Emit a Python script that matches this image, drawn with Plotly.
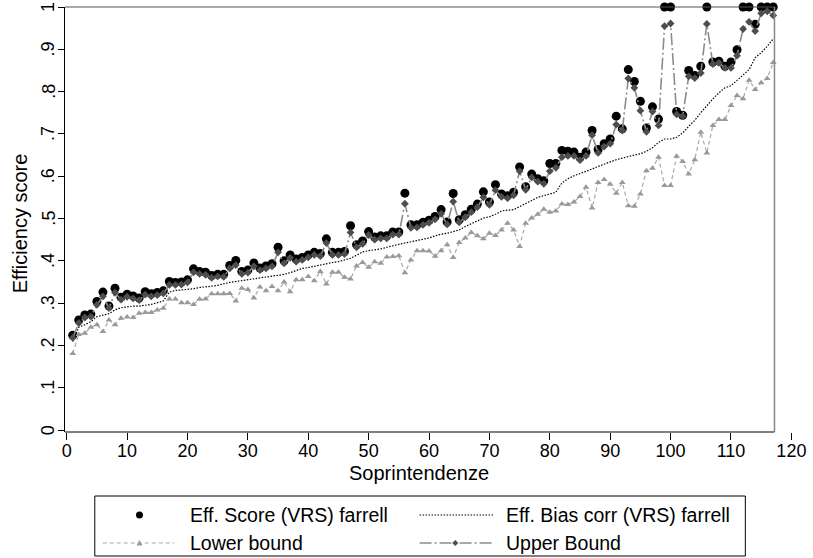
import plotly.graph_objects as go

units = list(range(1, 118))

score = [0.224, 0.260, 0.272, 0.274, 0.304, 0.326, 0.293, 0.335, 0.314, 0.321,
         0.317, 0.312, 0.327, 0.322, 0.325, 0.329, 0.351, 0.349, 0.350, 0.355,
         0.381, 0.375, 0.373, 0.365, 0.368, 0.368, 0.389, 0.401, 0.375, 0.378,
         0.395, 0.383, 0.388, 0.393, 0.432, 0.400, 0.414, 0.404, 0.408, 0.414,
         0.420, 0.417, 0.452, 0.420, 0.420, 0.422, 0.483, 0.438, 0.447, 0.469,
         0.456, 0.459, 0.459, 0.468, 0.468, 0.560, 0.485, 0.485, 0.491, 0.496,
         0.505, 0.521, 0.492, 0.559, 0.497, 0.509, 0.522, 0.534, 0.563, 0.539,
         0.580, 0.558, 0.554, 0.562, 0.622, 0.575, 0.605, 0.594, 0.589, 0.630,
         0.630, 0.661, 0.659, 0.657, 0.645, 0.657, 0.708, 0.663, 0.677, 0.688,
         0.742, 0.712, 0.852, 0.824, 0.777, 0.714, 0.764, 0.735, 1.000, 1.000,
         0.753, 0.744, 0.850, 0.838, 0.860, 1.000, 0.870, 0.872, 0.860, 0.870,
         0.899, 1.000, 1.000, 0.959, 1.000, 1.000, 1.000]

bias_corr = [0.209, 0.243, 0.249, 0.256, 0.268, 0.272, 0.275, 0.284, 0.289, 0.291,
             0.293, 0.293, 0.295, 0.297, 0.301, 0.305, 0.326, 0.330, 0.331, 0.332,
             0.334, 0.337, 0.338, 0.340, 0.342, 0.346, 0.349, 0.351, 0.353, 0.355,
             0.357, 0.360, 0.361, 0.363, 0.365, 0.368, 0.372, 0.377, 0.382, 0.384,
             0.387, 0.391, 0.394, 0.396, 0.398, 0.402, 0.406, 0.413, 0.421, 0.424,
             0.426, 0.428, 0.432, 0.436, 0.439, 0.442, 0.445, 0.447, 0.450, 0.454,
             0.459, 0.463, 0.465, 0.469, 0.473, 0.481, 0.488, 0.495, 0.501, 0.504,
             0.510, 0.518, 0.520, 0.521, 0.528, 0.536, 0.544, 0.550, 0.554, 0.558,
             0.562, 0.584, 0.594, 0.601, 0.606, 0.611, 0.617, 0.623, 0.629, 0.634,
             0.639, 0.643, 0.647, 0.650, 0.653, 0.659, 0.667, 0.680, 0.688, 0.688,
             0.692, 0.702, 0.718, 0.732, 0.750, 0.767, 0.783, 0.797, 0.809, 0.814,
             0.827, 0.840, 0.852, 0.880, 0.892, 0.907, 0.925]

lower = [0.181, 0.226, 0.229, 0.243, 0.249, 0.233, 0.260, 0.249, 0.264, 0.267,
         0.266, 0.276, 0.278, 0.278, 0.284, 0.288, 0.310, 0.310, 0.301, 0.301,
         0.297, 0.309, 0.310, 0.322, 0.322, 0.322, 0.323, 0.305, 0.335, 0.332,
         0.312, 0.338, 0.329, 0.339, 0.329, 0.350, 0.327, 0.355, 0.355, 0.363,
         0.353, 0.375, 0.345, 0.373, 0.373, 0.361, 0.357, 0.388, 0.396, 0.385,
         0.398, 0.394, 0.409, 0.410, 0.412, 0.372, 0.402, 0.424, 0.424, 0.423,
         0.411, 0.424, 0.438, 0.408, 0.443, 0.454, 0.467, 0.459, 0.452, 0.465,
         0.460, 0.473, 0.489, 0.473, 0.434, 0.489, 0.501, 0.510, 0.522, 0.515,
         0.518, 0.534, 0.533, 0.539, 0.552, 0.574, 0.525, 0.585, 0.592, 0.581,
         0.560, 0.585, 0.530, 0.529, 0.558, 0.613, 0.619, 0.645, 0.578, 0.578,
         0.647, 0.635, 0.605, 0.639, 0.704, 0.655, 0.720, 0.734, 0.734, 0.767,
         0.791, 0.783, 0.827, 0.805, 0.821, 0.831, 0.869]

upper = [0.218, 0.253, 0.266, 0.268, 0.296, 0.316, 0.288, 0.325, 0.308, 0.315,
         0.311, 0.307, 0.320, 0.316, 0.319, 0.323, 0.343, 0.343, 0.344, 0.349,
         0.373, 0.369, 0.367, 0.360, 0.363, 0.362, 0.382, 0.390, 0.369, 0.372,
         0.387, 0.378, 0.382, 0.387, 0.420, 0.394, 0.407, 0.398, 0.402, 0.408,
         0.414, 0.411, 0.442, 0.414, 0.414, 0.416, 0.467, 0.432, 0.440, 0.461,
         0.450, 0.453, 0.453, 0.462, 0.462, 0.535, 0.478, 0.479, 0.485, 0.490,
         0.498, 0.511, 0.486, 0.540, 0.491, 0.503, 0.515, 0.527, 0.550, 0.532,
         0.567, 0.551, 0.548, 0.555, 0.612, 0.568, 0.597, 0.587, 0.582, 0.612,
         0.620, 0.645, 0.648, 0.648, 0.638, 0.648, 0.697, 0.655, 0.670, 0.677,
         0.722, 0.708, 0.831, 0.809, 0.755, 0.705, 0.753, 0.720, 0.955, 0.961,
         0.746, 0.742, 0.836, 0.832, 0.844, 0.960, 0.865, 0.868, 0.856, 0.856,
         0.885, 0.948, 0.965, 0.943, 0.985, 0.990, 0.980]

x_ticks = [0, 10, 20, 30, 40, 50, 60, 70, 80, 90, 100, 110, 120]
y_ticks = [0, 0.1, 0.2, 0.3, 0.4, 0.5, 0.6, 0.7, 0.8, 0.9, 1.0]
y_ticklabels = ["0", ".1", ".2", ".3", ".4", ".5", ".6", ".7", ".8", ".9", "1"]

legend_labels = ["Eff. Score (VRS) farrell", "Eff. Bias corr (VRS) farrell",
                 "Lower bound", "Upper Bound"]

FONT = "Liberation Sans, Arial, Helvetica, sans-serif"
X_MIN, X_MAX, X_FRAME = -0.28, 120.6, 117.2

W, H = 813, 558
L, R, T, B = 65, 13, 7, 558 - 432
PW, PH = W - L - R, H - T - B


def px(p):
    """page pixel x -> paper x"""
    return (p - L) / PW


def py(p):
    """page pixel y -> paper y"""
    return (H - B - p) / PH


fig = go.Figure()

fig.add_trace(go.Scatter(x=units, y=score, mode="markers", cliponaxis=False,
                         marker=dict(symbol="circle", size=9, color="black"),
                         name=legend_labels[0], showlegend=False))
fig.add_trace(go.Scatter(x=units, y=bias_corr, mode="lines", cliponaxis=False,
                         line=dict(color="black", width=1.2, dash="1.5px,1.5px"),
                         name=legend_labels[1], showlegend=False))
fig.add_trace(go.Scatter(x=units, y=lower, mode="lines+markers", cliponaxis=False,
                         line=dict(color="#a8a8a8", width=1.2, dash="4px,3px"),
                         marker=dict(symbol="triangle-up", size=6, color="#999999"),
                         name=legend_labels[2], showlegend=False))
fig.add_trace(go.Scatter(x=units, y=upper, mode="lines+markers", cliponaxis=False,
                         line=dict(color="#8c8c8c", width=1.6, dash="12px,3px,2px,3px"),
                         marker=dict(symbol="diamond", size=6, color="#4d4d4d"),
                         name=legend_labels[3], showlegend=False))

shapes = []
# plot frame: bottom, top, right
shapes.append(dict(type="line", xref="x", yref="paper", x0=X_MIN, x1=X_FRAME, y0=0, y1=0,
                   line=dict(color="black", width=1)))
shapes.append(dict(type="line", xref="x", yref="paper", x0=X_MIN, x1=X_FRAME, y0=1, y1=1,
                   line=dict(color="#555555", width=1)))
shapes.append(dict(type="line", xref="x", yref="paper", x0=X_FRAME, x1=X_FRAME, y0=0, y1=1,
                   line=dict(color="#888888", width=1.5)))

# manual legend
shapes.append(dict(type="rect", xref="paper", yref="paper", x0=px(95), x1=px(750),
                   y0=py(556), y1=py(496), line=dict(color="black", width=1), fillcolor="white",
                   layer="below"))
row1, row2 = 515, 543
shapes.append(dict(type="circle", xref="paper", yref="paper", xsizemode="pixel", ysizemode="pixel",
                   xanchor=px(140), yanchor=py(row1), x0=-3.5, x1=3.5, y0=-3.5, y1=3.5,
                   fillcolor="black", line=dict(width=0)))
shapes.append(dict(type="line", xref="paper", yref="paper", x0=px(422), x1=px(496),
                   y0=py(row1), y1=py(row1), line=dict(color="black", width=1.2, dash="1.5px,1.5px")))
shapes.append(dict(type="line", xref="paper", yref="paper", x0=px(103), x1=px(175),
                   y0=py(row2), y1=py(row2), line=dict(color="#a8a8a8", width=1.2, dash="4px,3px")))
shapes.append(dict(type="path", xref="paper", yref="paper", xsizemode="pixel", ysizemode="pixel",
                   xanchor=px(140), yanchor=py(row2), path="M-3,-2.5 L3,-2.5 L0,3 Z",
                   fillcolor="#999999", line=dict(width=0)))
shapes.append(dict(type="line", xref="paper", yref="paper", x0=px(422), x1=px(496),
                   y0=py(row2), y1=py(row2), line=dict(color="#8c8c8c", width=1.6, dash="12px,3px,2px,3px")))
shapes.append(dict(type="path", xref="paper", yref="paper", xsizemode="pixel", ysizemode="pixel",
                   xanchor=px(458), yanchor=py(row2), path="M-3,0 L0,3 L3,0 L0,-3 Z",
                   fillcolor="#4d4d4d", line=dict(width=0)))

annotations = []
for lbl, xp, yp in [(legend_labels[0], 189, row1), (legend_labels[1], 507, row1),
                    (legend_labels[2], 189, row2), (legend_labels[3], 507, row2)]:
    annotations.append(dict(text=lbl, xref="paper", yref="paper", x=px(xp), y=py(yp),
                            xanchor="left", yanchor="middle", showarrow=False,
                            font=dict(size=19.5, color="black", family=FONT)))
# y tick labels (rotated, Stata style)
for v, t in zip(y_ticks, y_ticklabels):
    annotations.append(dict(text=t, xref="paper", yref="y", x=px(48), y=v,
                            xanchor="center", yanchor="middle", showarrow=False, textangle=-90,
                            font=dict(size=18, color="black", family=FONT)))
# axis titles
annotations.append(dict(text="Soprintendenze", xref="paper", yref="paper", x=px(421), y=py(473),
                        xanchor="center", yanchor="middle", showarrow=False,
                        font=dict(size=20, color="black", family=FONT)))
annotations.append(dict(text="Efficiency score", xref="paper", yref="paper", x=px(20), y=py(223),
                        xanchor="center", yanchor="middle", showarrow=False, textangle=-90,
                        font=dict(size=20, color="black", family=FONT)))

fig.update_layout(
    width=W, height=H,
    margin=dict(l=L, r=R, t=T, b=B, pad=0),
    paper_bgcolor="white", plot_bgcolor="white",
    font=dict(family=FONT, size=18, color="black"),
    showlegend=False, hovermode=False,
    shapes=shapes, annotations=annotations,
    xaxis=dict(range=[X_MIN, X_MAX], tickvals=x_ticks, ticks="outside", ticklen=7,
               tickcolor="black", tickwidth=1, showgrid=False, zeroline=False, showline=False,
               ticklabelstandoff=-5,
               tickfont=dict(size=18, family=FONT, color="black")),
    yaxis=dict(range=[-0.0047, 1.0], tickvals=y_ticks, ticks="outside", showticklabels=False,
               ticklen=6, tickcolor="black", tickwidth=1, showgrid=False, zeroline=False,
               showline=True, linecolor="black", linewidth=1),
)

fig.write_html("out.html", config={"displayModeBar": False},
               post_script="document.body.style.margin='0';document.body.style.overflow='hidden';")
